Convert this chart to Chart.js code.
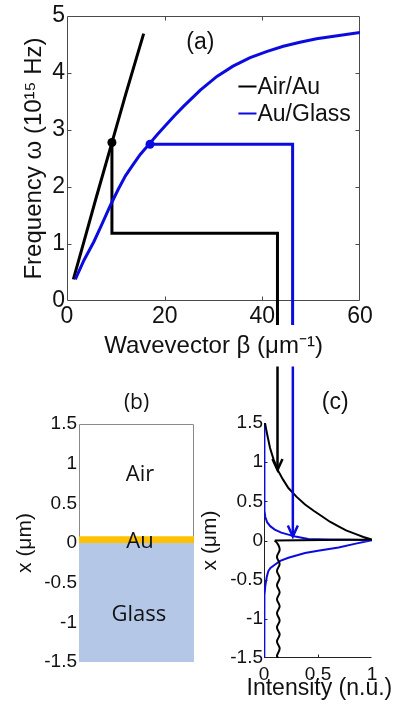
<!DOCTYPE html>
<html><head><meta charset="utf-8">
<script src="https://cdn.jsdelivr.net/npm/chart.js@4.4.1/dist/chart.umd.min.js"></script>
<style>
html,body{margin:0;padding:0;background:#fff;width:394px;height:709px;overflow:hidden}
canvas{position:absolute;display:block}
#ca{left:0;top:0}
#cb{left:0;top:360px}
#cc{left:195px;top:360px}
</style></head><body>
<canvas id="ca" width="394" height="360"></canvas>
<canvas id="cb" width="195" height="349"></canvas>
<canvas id="cc" width="199" height="349"></canvas>
<script>
// ---------- Panel (a): dispersion ----------
const aBetaTicks  = [0, 20, 40, 60];
const aOmegaTicks = [0, 1, 2, 3, 4, 5];
const aAirAuBeta   = [1.3, 3.5, 6.0, 9.2, 12.0, 14.0, 15.7];
const aAirAuOmega  = [0.38, 1.05, 1.82, 2.78, 3.62, 4.2, 4.69];
const aAuGlassBeta  = [1.7, 3.5, 5.5, 7.0, 8.9, 10.5, 12.0, 13.6, 15.0, 17.0, 18.5, 20.4, 22.0, 23.8, 27.3, 30.7, 34.0, 37.5, 41.0, 44.3, 47.7, 51.1, 55.0, 60.0];
const aAuGlassOmega = [0.38, 0.72, 1.04, 1.32, 1.68, 1.96, 2.2, 2.4, 2.57, 2.77, 2.92, 3.1, 3.25, 3.41, 3.7, 3.94, 4.12, 4.27, 4.38, 4.47, 4.54, 4.6, 4.65, 4.71];
// mode markers (point, drop to intensity plot)
const aAirAuMarkBeta    = [9.2, 9.2, 43.1, 43.1];
const aAirAuMarkOmega   = [2.78, 1.19, 1.19, -0.42];
const aAuGlassMarkBeta  = [17.0, 46.2, 46.2];
const aAuGlassMarkOmega = [2.75, 2.75, -0.42];
const seriesNames = ['Air/Au', 'Au/Glass'];

// ---------- Panel (b): layers ----------
const posTicks    = [-1.5, -1, -0.5, 0, 0.5, 1, 1.5];
const bLayerNames = ['Air', 'Au', 'Glass'];
const bGlassTop   = 0;
const bGlassBottom = -1.5;
const bAuTop      = 0.085;

// ---------- Panel (c): intensity profiles ----------
const cIntTicks = [0, 0.5, 1];
const cAirAuPos = [1.5, 1.35, 1.18, 1.03, 0.885, 0.78, 0.67, 0.56, 0.46, 0.38, 0.31, 0.24, 0.18, 0.13, 0.085, 0.045, 0.012, 0.0];
const cAirAuInt = [0.009, 0.03, 0.056, 0.09, 0.133, 0.175, 0.226, 0.3, 0.38, 0.46, 0.536, 0.61, 0.69, 0.76, 0.845, 0.92, 1.0, 0.1];
const cAirAuGlassPos = [0.0, -0.05, -0.12, -0.21, -0.30, -0.39, -0.48, -0.57, -0.66, -0.75, -0.84, -0.93, -1.02, -1.11, -1.20, -1.29, -1.38, -1.47, -1.5];
const cAirAuGlassInt = [0.1, 0.13, 0.145, 0.12, 0.145, 0.12, 0.145, 0.12, 0.145, 0.12, 0.145, 0.12, 0.145, 0.12, 0.145, 0.12, 0.145, 0.12, 0.13];
const cAuGlassPos = [1.5, 0.5, 0.38, 0.3, 0.23, 0.18, 0.14, 0.1, 0.075, 0.05, 0.035, 0.02, 0.012, 0.008, 0.004, -0.04, -0.09, -0.13, -0.16, -0.22, -0.26, -0.31, -0.35, -0.39, -0.47, -0.58, -0.7, -0.85, -1.5];
const cAuGlassInt = [0.003, 0.003, 0.005, 0.012, 0.03, 0.06, 0.1, 0.16, 0.226, 0.29, 0.35, 0.41, 0.6, 0.8, 1.0, 0.85, 0.69, 0.5, 0.38, 0.226, 0.15, 0.1, 0.06, 0.04, 0.025, 0.012, 0.004, 0.003, 0.003];
const cAirAuArrowInt   = [0.125, 0.125];
const cAirAuArrowPos   = [2.22, 0.9];
const cAuGlassArrowInt = [0.267, 0.267];
const cAuGlassArrowPos = [2.22, 0.05];

// ---------- helpers ----------
const BLACK = '#000000', BLUE = '#0b0bdf';
const FONT = "'Liberation Sans', Arial, sans-serif";
Chart.defaults.font.family = FONT;
Chart.defaults.color = '#111';
const pts = (xs, ys) => xs.map((x, i) => ({x: x, y: ys[i]}));
const setTicks = arr => (s => { s.ticks = arr.map(v => ({value: v})); });
const plain = v => String(v);

const framePlugin = {
  id: 'frame',
  beforeDatasetsDraw(chart, args, o) {
    const ctx = chart.ctx, a = chart.chartArea, s = o.sides;
    const L = Math.round(a.left) + 0.5, R = Math.round(a.right) - 0.5, T = Math.round(a.top) + 0.5, B = Math.round(a.bottom) - 0.5;
    ctx.save();
    ctx.strokeStyle = o.color; ctx.lineWidth = 1;
    ctx.beginPath();
    if (s.includes('top'))    { ctx.moveTo(L, T); ctx.lineTo(R, T); }
    if (s.includes('bottom')) { ctx.moveTo(L, B); ctx.lineTo(R, B); }
    if (s.includes('left'))   { ctx.moveTo(L, T); ctx.lineTo(L, B); }
    if (s.includes('right'))  { ctx.moveTo(R, T); ctx.lineTo(R, B); }
    if (o.tick) {
      const xs = chart.scales.x, ys = chart.scales.y, t = o.tick;
      xs.ticks.forEach(k => {
        const p = Math.round(xs.getPixelForValue(k.value)) + 0.5;
        if (p <= L + 1 || p >= R - 1) return;
        if (s.includes('bottom')) { ctx.moveTo(p, B); ctx.lineTo(p, B - t); }
        if (s.includes('top'))    { ctx.moveTo(p, T); ctx.lineTo(p, T + t); }
      });
      ys.ticks.forEach(k => {
        const p = Math.round(ys.getPixelForValue(k.value)) + 0.5;
        if (p <= T + 1 || p >= B - 1) return;
        if (s.includes('left'))  { ctx.moveTo(L, p); ctx.lineTo(L + t, p); }
        if (s.includes('right')) { ctx.moveTo(R, p); ctx.lineTo(R - t, p); }
      });
    }
    ctx.stroke();
    ctx.restore();
  }
};

const textPlugin = {
  id: 'texts',
  afterDatasetsDraw(chart, args, o) {
    const ctx = chart.ctx, xs = chart.scales.x, ys = chart.scales.y;
    (o.items || []).forEach(it => {
      ctx.save();
      ctx.font = it.font; ctx.fillStyle = it.color || '#111';
      ctx.textAlign = it.align || 'center'; ctx.textBaseline = 'middle';
      ctx.fillText(it.text, xs.getPixelForValue(it.x), ys.getPixelForValue(it.y));
      ctx.restore();
    });
  }
};

const legendPlugin = {
  id: 'inLegend',
  afterDatasetsDraw(chart, args, o) {
    const ctx = chart.ctx, xs = chart.scales.x, ys = chart.scales.y;
    const x0 = xs.getPixelForValue(o.lineFrom), x1 = xs.getPixelForValue(o.lineTo);
    o.rows.forEach(r => {
      const ds = chart.data.datasets[r.dataset];
      const y = Math.round(ys.getPixelForValue(r.y)) + 0.5;
      ctx.save();
      ctx.strokeStyle = ds.borderColor; ctx.lineWidth = 2;
      ctx.beginPath(); ctx.moveTo(x0, y); ctx.lineTo(x1, y); ctx.stroke();
      ctx.font = o.font; ctx.fillStyle = '#111';
      ctx.textAlign = 'left'; ctx.textBaseline = 'middle';
      ctx.fillText(ds.label, x1 + 1, y + 1);
      ctx.restore();
    });
  }
};

const arrowPlugin = {
  id: 'arrowHeads',
  afterDatasetsDraw(chart, args, o) {
    const ctx = chart.ctx;
    chart.data.datasets.forEach((ds, i) => {
      if (!ds.arrowHead) return;
      const el = chart.getDatasetMeta(i).data;
      const p1 = el[el.length - 1], p0 = el[el.length - 2];
      const dx = p1.x - p0.x, dy = p1.y - p0.y, len = Math.hypot(dx, dy) || 1;
      const ux = dx / len, uy = dy / len, L = o.length, W = o.width;
      ctx.save();
      ctx.strokeStyle = ds.borderColor; ctx.lineWidth = ds.borderWidth;
      ctx.lineJoin = 'miter';
      ctx.beginPath();
      ctx.moveTo(p1.x - ux * L - uy * W, p1.y - uy * L + ux * W);
      ctx.lineTo(p1.x, p1.y);
      ctx.lineTo(p1.x - ux * L + uy * W, p1.y - uy * L - ux * W);
      ctx.stroke();
      ctx.restore();
    });
  }
};

const basePlugins = {legend: {display: false}, tooltip: {enabled: false}, title: {display: false}};
const noGrid = {display: false, drawTicks: false, tickLength: 0};

// ---------- Chart (a) ----------
new Chart(document.getElementById('ca'), {
  type: 'scatter',
  data: {datasets: [
    {label: seriesNames[1], data: pts(aAuGlassBeta, aAuGlassOmega), showLine: true, borderColor: BLUE, borderWidth: 3, pointRadius: 0, order: 1},
    {label: seriesNames[0], data: pts(aAirAuBeta, aAirAuOmega), showLine: true, borderColor: BLACK, borderWidth: 3, pointRadius: 0, order: 2},
    {label: seriesNames[1] + ' mode', data: pts(aAuGlassMarkBeta, aAuGlassMarkOmega), showLine: true, borderColor: BLUE, borderWidth: 3,
     pointRadius: c => c.dataIndex === 0 ? 4.5 : 0, pointBackgroundColor: BLUE, pointBorderWidth: 0, clip: false, order: 0},
    {label: seriesNames[0] + ' mode', data: pts(aAirAuMarkBeta, aAirAuMarkOmega), showLine: true, borderColor: BLACK, borderWidth: 3,
     pointRadius: c => c.dataIndex === 0 ? 4.5 : 0, pointBackgroundColor: BLACK, pointBorderWidth: 0, clip: false, order: 3}
  ]},
  options: {
    responsive: false, animation: false, devicePixelRatio: 1, events: [],
    layout: {padding: {top: 16, right: 34, bottom: 0, left: 0}},
    scales: {
      x: {type: 'linear', min: 0, max: 60, afterBuildTicks: setTicks(aBetaTicks),
          grid: noGrid, border: {display: false},
          ticks: {font: {size: 23}, padding: 2, maxRotation: 0, autoSkip: false, callback: plain},
          title: {display: true, text: 'Wavevector β (μm⁻¹)', font: {size: 24}, padding: {top: 0, bottom: -1}},
          afterFit: s => { s.height = 59; }},
      y: {type: 'linear', min: 0, max: 5, afterBuildTicks: setTicks(aOmegaTicks),
          grid: noGrid, border: {display: false},
          ticks: {font: {size: 23}, padding: 2, autoSkip: false, callback: plain},
          title: {display: true, text: 'Frequency ω (10¹⁵ Hz)', font: {size: 24}, padding: {top: 20, bottom: 0}},
          afterFit: s => { s.width = 67; }}
    },
    plugins: Object.assign({}, basePlugins, {
      frame: {sides: ['top', 'bottom', 'left', 'right'], color: '#4a4a4a', tick: 4},
      texts: {items: [{text: '(a)', x: 27.3, y: 4.53, font: '23px ' + FONT}]},
      inLegend: {lineFrom: 35.1, lineTo: 38.8, font: '23px ' + FONT, rows: [{dataset: 1, y: 3.77}, {dataset: 0, y: 3.3}]}
    })
  },
  plugins: [framePlugin, textPlugin, legendPlugin]
});

// ---------- Chart (b) ----------
new Chart(document.getElementById('cb'), {
  type: 'scatter',
  data: {datasets: [
    {label: bLayerNames[1], data: pts([0, 1], [bAuTop, bAuTop]), showLine: true, borderWidth: 0, pointRadius: 0,
     backgroundColor: '#ffc000', fill: {value: bGlassTop}},
    {label: bLayerNames[2], data: pts([0, 1], [bGlassTop, bGlassTop]), showLine: true, borderWidth: 0, pointRadius: 0,
     backgroundColor: '#b4c7e7', fill: {value: bGlassBottom}}
  ]},
  options: {
    responsive: false, animation: false, devicePixelRatio: 1, events: [],
    layout: {padding: {top: 64, right: 1, bottom: 47, left: 0}},
    scales: {
      x: {type: 'linear', min: 0, max: 1, display: false},
      y: {type: 'linear', min: -1.5, max: 1.5, afterBuildTicks: setTicks(posTicks),
          grid: noGrid, border: {display: false},
          ticks: {font: {size: 19}, padding: 2, autoSkip: false, callback: plain},
          title: {display: true, text: 'x (μm)', font: {size: 21}, padding: {top: 13, bottom: 0}},
          afterFit: s => { s.width = 79; }}
    },
    plugins: Object.assign({}, basePlugins, {
      filler: {propagate: false},
      frame: {sides: ['top', 'left', 'right'], color: '#8a8a8a'},
      texts: {items: [
        {text: '(b)', x: 0.5, y: 1.77, font: "21px 'Open Sans', sans-serif"},
        {text: bLayerNames[0], x: 0.53, y: 0.86, font: "22px 'Open Sans', sans-serif"},
        {text: bLayerNames[1], x: 0.53, y: 0.01, font: "22px 'Open Sans', sans-serif"},
        {text: bLayerNames[2], x: 0.52, y: -0.9, font: "22px 'Open Sans', sans-serif"}
      ]}
    })
  },
  plugins: [framePlugin, textPlugin]
});

// ---------- Chart (c) ----------
new Chart(document.getElementById('cc'), {
  type: 'scatter',
  data: {datasets: [
    {label: seriesNames[0] + ' arrow', data: pts(cAirAuArrowInt, cAirAuArrowPos), showLine: true, borderColor: BLACK, borderWidth: 2.5, pointRadius: 0, clip: false, arrowHead: true, order: 0},
    {label: seriesNames[1] + ' arrow', data: pts(cAuGlassArrowInt, cAuGlassArrowPos), showLine: true, borderColor: BLUE, borderWidth: 2.5, pointRadius: 0, clip: false, arrowHead: true, order: 0},
    {label: seriesNames[1], data: pts(cAuGlassInt, cAuGlassPos), showLine: true, borderColor: BLUE, borderWidth: 2, pointRadius: 0, tension: 0, order: 2},
    {label: seriesNames[0], data: pts(cAirAuInt, cAirAuPos), showLine: true, borderColor: BLACK, borderWidth: 2, pointRadius: 0, tension: 0, order: 1},
    {label: seriesNames[0] + ' glass', data: pts(cAirAuGlassInt, cAirAuGlassPos), showLine: true, borderColor: BLACK, borderWidth: 2, pointRadius: 0, tension: 0.4, order: 1}
  ]},
  options: {
    responsive: false, animation: false, devicePixelRatio: 1, events: [],
    layout: {padding: {top: 63, right: 22, bottom: 0, left: 0}},
    scales: {
      x: {type: 'linear', min: 0, max: 1, afterBuildTicks: setTicks(cIntTicks),
          grid: noGrid, border: {display: false},
          ticks: {font: {size: 19}, padding: 5, maxRotation: 0, autoSkip: false, callback: plain},
          title: {display: false},
          afterFit: s => { s.height = 51; }},
      y: {type: 'linear', min: -1.5, max: 1.5, afterBuildTicks: setTicks(posTicks),
          grid: noGrid, border: {display: false},
          ticks: {font: {size: 19}, padding: 1, autoSkip: false, callback: plain},
          title: {display: true, text: 'x (μm)', font: {size: 21}, padding: {top: 3, bottom: 0}},
          afterFit: s => { s.width = 69; }}
    },
    plugins: Object.assign({}, basePlugins, {
      frame: {sides: ['left', 'bottom'], color: '#222', tick: 3},
      texts: {items: [
        {text: '(c)', x: 0.66, y: 1.765, font: '23px ' + FONT},
        {text: 'Intensity (n.u.)', x: 0.513, y: -1.89, font: '23px ' + FONT}
      ]},
      arrowHeads: {length: 11, width: 5}
    })
  },
  plugins: [framePlugin, textPlugin, arrowPlugin]
});
</script>
</body></html>
